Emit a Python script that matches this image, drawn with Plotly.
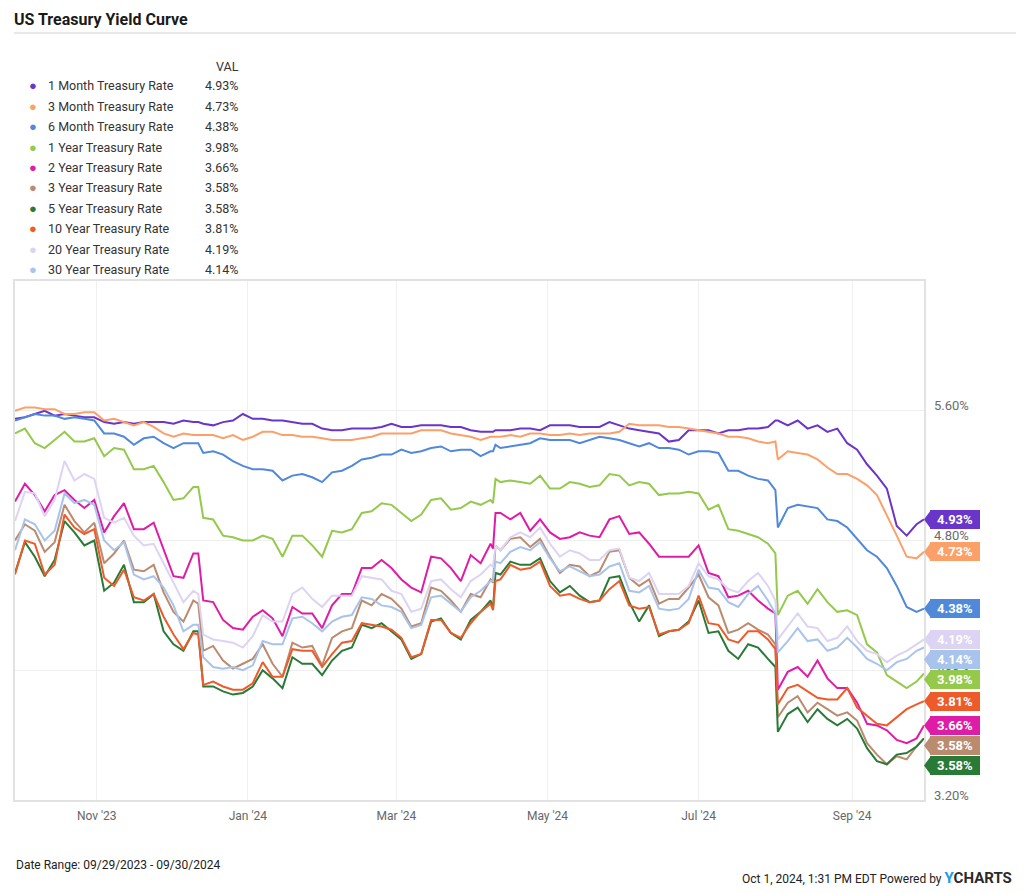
import plotly.graph_objects as go

dates = [
    "2023-09-29", "2023-10-03", "2023-10-07", "2023-10-11", "2023-10-15", "2023-10-19", "2023-10-23",
    "2023-10-27", "2023-10-31", "2023-11-04", "2023-11-08", "2023-11-12", "2023-11-16", "2023-11-20",
    "2023-11-24", "2023-11-28", "2023-12-02", "2023-12-06", "2023-12-10",
    "2023-12-12",
    "2023-12-14", "2023-12-18", "2023-12-22", "2023-12-26", "2023-12-30", "2024-01-03", "2024-01-07",
    "2024-01-11", "2024-01-15", "2024-01-19", "2024-01-23", "2024-01-27", "2024-01-31", "2024-02-04",
    "2024-02-08", "2024-02-12", "2024-02-16", "2024-02-20", "2024-02-24",
    "2024-02-28", "2024-03-03", "2024-03-07", "2024-03-11", "2024-03-15", "2024-03-19", "2024-03-23",
    "2024-03-27", "2024-03-31", "2024-04-04", "2024-04-08",
    "2024-04-09", "2024-04-10",
    "2024-04-12", "2024-04-16", "2024-04-20", "2024-04-24", "2024-04-28", "2024-05-02", "2024-05-06",
    "2024-05-10", "2024-05-14", "2024-05-18", "2024-05-22", "2024-05-26", "2024-05-30", "2024-06-03",
    "2024-06-07", "2024-06-11", "2024-06-15", "2024-06-19", "2024-06-23", "2024-06-27", "2024-07-01",
    "2024-07-05", "2024-07-09", "2024-07-13", "2024-07-17", "2024-07-21",
    "2024-07-25", "2024-07-29",
    "2024-08-01",
    "2024-08-02", "2024-08-06", "2024-08-10", "2024-08-14", "2024-08-18", "2024-08-22", "2024-08-26",
    "2024-08-30", "2024-09-03", "2024-09-07", "2024-09-11", "2024-09-15", "2024-09-19", "2024-09-23",
    "2024-09-27",
    "2024-09-30",
]

rate_1m = [
    5.55, 5.56, 5.58, 5.60, 5.57, 5.58, 5.57, 5.56, 5.56, 5.53, 5.52, 5.53, 5.52, 5.53, 5.53, 5.53, 5.52, 5.54, 5.53,
    5.53,
    5.52, 5.51, 5.53, 5.54, 5.58, 5.55, 5.55, 5.54, 5.54, 5.53, 5.52, 5.52, 5.49, 5.48, 5.48, 5.49, 5.49, 5.49, 5.50,
    5.52, 5.50, 5.50, 5.51, 5.51, 5.51, 5.50, 5.50, 5.48, 5.47, 5.47,
    5.47, 5.48,
    5.48, 5.48, 5.49, 5.49, 5.48, 5.51, 5.51,
    5.51, 5.50, 5.50, 5.50, 5.53, 5.51, 5.49, 5.48, 5.47, 5.46, 5.41, 5.42, 5.48, 5.48, 5.48, 5.46, 5.48, 5.48, 5.49,
    5.49, 5.50,
    5.54,
    5.54, 5.51, 5.54, 5.49, 5.51, 5.47, 5.49, 5.40, 5.36, 5.27, 5.20, 5.12, 4.89, 4.83, 4.90,
    4.93,
]
rate_3m = [
    5.60, 5.62, 5.62, 5.61, 5.61, 5.58, 5.58, 5.59, 5.59, 5.54, 5.55, 5.53, 5.51, 5.53, 5.50, 5.46, 5.44, 5.46, 5.45,
    5.45,
    5.45, 5.45, 5.43, 5.45, 5.42, 5.44, 5.47, 5.47, 5.45, 5.45, 5.44, 5.44, 5.43, 5.42, 5.42, 5.42, 5.43, 5.44, 5.46,
    5.46, 5.46, 5.46, 5.48, 5.48, 5.48, 5.46, 5.45, 5.44, 5.42, 5.44,
    5.44, 5.44,
    5.44, 5.45, 5.44, 5.46, 5.46, 5.45, 5.45,
    5.46, 5.45, 5.46, 5.46, 5.46, 5.47, 5.52, 5.51, 5.51, 5.51, 5.50, 5.50, 5.49, 5.48, 5.47, 5.46, 5.44, 5.44, 5.43,
    5.41, 5.40,
    5.41,
    5.30, 5.35, 5.34, 5.33, 5.30, 5.25, 5.21, 5.21, 5.18, 5.14, 5.08, 4.96, 4.83, 4.70, 4.69,
    4.73,
]
rate_6m = [
    5.54, 5.56, 5.58, 5.57, 5.57, 5.55, 5.56, 5.55, 5.54, 5.46, 5.46, 5.44, 5.39, 5.43, 5.44, 5.40, 5.37, 5.40, 5.40,
    5.40,
    5.34, 5.35, 5.33, 5.29, 5.26, 5.24, 5.24, 5.23, 5.17, 5.20, 5.21, 5.19, 5.16, 5.22, 5.23, 5.26, 5.30, 5.31, 5.33,
    5.33, 5.36, 5.34, 5.35, 5.37, 5.38, 5.35, 5.36, 5.36, 5.32, 5.35,
    5.35, 5.39,
    5.37, 5.38, 5.39, 5.40, 5.43, 5.42, 5.42,
    5.42, 5.40, 5.42, 5.44, 5.43, 5.42, 5.40, 5.38, 5.40, 5.37, 5.37, 5.36, 5.33, 5.35, 5.35, 5.34, 5.23, 5.23, 5.20,
    5.18, 5.17,
    5.11,
    4.88, 5.00, 5.02, 5.01, 5.00, 4.93, 4.92, 4.88, 4.81, 4.74, 4.70, 4.63, 4.52, 4.39, 4.36,
    4.38,
]
rate_1y = [
    5.46, 5.49, 5.40, 5.37, 5.42, 5.47, 5.41, 5.41, 5.43, 5.32, 5.37, 5.36, 5.24, 5.24, 5.26, 5.16, 5.05, 5.06, 5.13,
    5.13,
    4.94, 4.93, 4.83, 4.82, 4.80, 4.80, 4.83, 4.81, 4.70, 4.83, 4.83, 4.77, 4.70, 4.86, 4.85, 4.87, 4.97, 4.98, 5.03,
    5.02, 4.97, 4.92, 4.96, 5.05, 5.06, 4.99, 5.00, 5.04, 5.02, 5.05,
    5.03, 5.18,
    5.16, 5.17, 5.16, 5.15, 5.20, 5.12, 5.12,
    5.16, 5.15, 5.13, 5.14, 5.21, 5.20, 5.14, 5.16, 5.15, 5.08, 5.09, 5.09, 5.10, 5.09, 4.99, 5.02, 4.87, 4.86, 4.84,
    4.82, 4.78,
    4.72,
    4.34, 4.46, 4.49, 4.41, 4.50, 4.42, 4.36, 4.37, 4.34, 4.16, 4.11, 3.97, 3.93, 3.89, 3.93,
    3.98,
]
rate_2y = [
    5.04, 5.15, 5.08, 4.98, 5.08, 5.11, 5.05, 5.00, 5.05, 4.85, 4.95, 5.03, 4.87, 4.87, 4.91, 4.74, 4.58, 4.57, 4.72,
    4.72,
    4.43, 4.42, 4.31, 4.26, 4.25, 4.33, 4.37, 4.32, 4.21, 4.39, 4.35, 4.35, 4.26, 4.40, 4.47, 4.47, 4.63, 4.63, 4.68,
    4.63, 4.56, 4.51, 4.48, 4.70, 4.69, 4.63, 4.55, 4.71, 4.66, 4.78,
    4.75, 4.97,
    4.97, 4.93, 4.97, 4.86, 4.93, 4.85, 4.81,
    4.82, 4.85, 4.83, 4.82, 4.93, 4.95, 4.84, 4.85, 4.78, 4.70, 4.70, 4.70, 4.70, 4.77, 4.60, 4.58, 4.45, 4.46, 4.49,
    4.43, 4.38,
    4.35,
    3.88, 3.99, 4.02, 3.96, 4.06, 3.95, 3.89, 3.89, 3.80, 3.67, 3.66, 3.63, 3.57, 3.55, 3.58,
    3.66,
]
rate_3y = [
    4.80, 4.90, 4.86, 4.73, 4.79, 5.02, 4.92, 4.85, 4.91, 4.66, 4.72, 4.80, 4.62, 4.61, 4.65, 4.48, 4.36, 4.30, 4.43,
    4.41,
    4.12, 4.15, 4.06, 4.01, 4.04, 4.07, 4.16, 4.04, 3.96, 4.17, 4.14, 4.15, 4.03, 4.20, 4.24, 4.26, 4.43, 4.40, 4.47,
    4.44, 4.38, 4.27, 4.29, 4.51, 4.49, 4.43, 4.36, 4.47, 4.45, 4.56,
    4.54, 4.77,
    4.74, 4.81, 4.82, 4.76, 4.81, 4.70, 4.60,
    4.65, 4.64, 4.58, 4.61, 4.73, 4.74, 4.57, 4.52, 4.56, 4.41, 4.44, 4.44, 4.51, 4.59, 4.45, 4.40, 4.23, 4.25, 4.29,
    4.25, 4.22,
    4.16,
    3.71, 3.80, 3.84, 3.74, 3.80, 3.76, 3.72, 3.74, 3.69, 3.55, 3.48, 3.42, 3.47, 3.45, 3.53,
    3.58,
]
rate_5y = [
    4.60, 4.79, 4.70, 4.58, 4.68, 4.92, 4.85, 4.77, 4.80, 4.49, 4.54, 4.65, 4.42, 4.42, 4.47, 4.24, 4.16, 4.12, 4.24,
    4.24,
    3.90, 3.90, 3.87, 3.85, 3.86, 3.90, 4.00, 3.95, 3.89, 4.08, 4.04, 4.04, 3.97, 4.06, 4.12, 4.14, 4.28, 4.26, 4.29,
    4.24, 4.19, 4.07, 4.10, 4.30, 4.32, 4.23, 4.19, 4.31, 4.36, 4.43,
    4.38, 4.60,
    4.59, 4.67, 4.65, 4.65, 4.69, 4.55, 4.48,
    4.52, 4.46, 4.42, 4.43, 4.57, 4.58, 4.42, 4.30, 4.40, 4.21, 4.24, 4.25, 4.30, 4.43, 4.23, 4.24, 4.12, 4.07, 4.16,
    4.14, 4.07,
    4.02,
    3.62, 3.73, 3.77, 3.68, 3.76, 3.70, 3.66, 3.70, 3.64, 3.52, 3.44, 3.42, 3.48, 3.49, 3.53,
    3.58,
]
rate_10y = [
    4.59, 4.80, 4.78, 4.59, 4.65, 4.96, 4.88, 4.84, 4.87, 4.57, 4.52, 4.62, 4.45, 4.43, 4.47, 4.33, 4.22, 4.13, 4.23,
    4.22,
    3.91, 3.93, 3.90, 3.88, 3.88, 3.92, 4.05, 3.96, 3.96, 4.13, 4.12, 4.12, 4.02, 4.10, 4.17, 4.18, 4.29, 4.28, 4.27,
    4.25, 4.20, 4.08, 4.10, 4.31, 4.31, 4.23, 4.20, 4.29, 4.36, 4.41,
    4.37, 4.55,
    4.56, 4.65, 4.62, 4.63, 4.67, 4.52, 4.46,
    4.47, 4.44, 4.42, 4.43, 4.50, 4.55, 4.40, 4.38, 4.39, 4.22, 4.24, 4.25, 4.29, 4.46, 4.29, 4.28, 4.19, 4.17, 4.24,
    4.24, 4.19,
    4.13,
    3.79, 3.89, 3.91, 3.87, 3.83, 3.82, 3.82, 3.89, 3.77, 3.72, 3.67, 3.66, 3.71, 3.76, 3.79,
    3.81,
]
rate_20y = [
    4.92, 5.10, 5.09, 4.95, 5.05, 5.29, 5.17, 5.21, 5.18, 4.94, 4.91, 4.94, 4.83, 4.77, 4.78, 4.66, 4.53, 4.42, 4.49,
    4.47,
    4.22, 4.19, 4.18, 4.17, 4.14, 4.21, 4.34, 4.30, 4.30, 4.47, 4.51, 4.44, 4.39, 4.46, 4.46, 4.46, 4.58, 4.57, 4.56,
    4.49, 4.47, 4.36, 4.38, 4.55, 4.56, 4.50, 4.45, 4.55, 4.59, 4.65,
    4.64, 4.77,
    4.74, 4.82, 4.85, 4.82, 4.88, 4.78, 4.70,
    4.74, 4.72, 4.68, 4.68, 4.74, 4.75, 4.57, 4.55, 4.60, 4.47, 4.47, 4.47, 4.52, 4.66, 4.58, 4.56, 4.50, 4.48, 4.55,
    4.60, 4.52,
    4.43,
    4.19, 4.27, 4.35, 4.27, 4.26, 4.18, 4.20, 4.27, 4.18, 4.12, 4.10, 4.05, 4.09, 4.12, 4.16,
    4.19,
]
rate_30y = [
    4.74, 4.93, 4.90, 4.80, 4.86, 5.09, 5.03, 5.05, 5.02, 4.80, 4.74, 4.79, 4.59, 4.56, 4.58, 4.51, 4.40, 4.24, 4.28,
    4.28,
    4.08, 4.02, 4.01, 4.02, 4.00, 4.03, 4.18, 4.16, 4.16, 4.32, 4.33, 4.29, 4.24, 4.30, 4.33, 4.34, 4.45, 4.44, 4.40,
    4.39, 4.36, 4.26, 4.28, 4.45, 4.46, 4.41, 4.36, 4.45, 4.49, 4.55,
    4.55, 4.67,
    4.66, 4.73, 4.76, 4.74, 4.79, 4.69, 4.61,
    4.64, 4.61, 4.58, 4.59, 4.64, 4.66, 4.49, 4.48, 4.52, 4.38, 4.37, 4.38, 4.44, 4.62, 4.51, 4.50, 4.42, 4.39, 4.47,
    4.52, 4.43,
    4.35,
    4.11, 4.18, 4.26, 4.18, 4.19, 4.12, 4.14, 4.20, 4.14, 4.07, 4.04, 4.00, 4.05, 4.07, 4.12,
    4.14,
]

series_names = [
    "1 Month Treasury Rate", "3 Month Treasury Rate", "6 Month Treasury Rate", "1 Year Treasury Rate",
    "2 Year Treasury Rate", "3 Year Treasury Rate", "5 Year Treasury Rate", "10 Year Treasury Rate",
    "20 Year Treasury Rate", "30 Year Treasury Rate",
]
series_values = [rate_1m, rate_3m, rate_6m, rate_1y, rate_2y, rate_3y, rate_5y, rate_10y, rate_20y, rate_30y]
series_colors = [
    "#6a35c9", "#fca06a", "#5089da", "#94c94c", "#df1ca6",
    "#bb8b6f", "#2a7a37", "#ee5b2b", "#ddd3f3", "#a8c4ec",
]

y_ticks = [3.2, 4.0, 4.8, 5.6]
x_range = ["2023-09-29", "2024-09-30"]
y_range = [3.2, 6.4]

for s in series_values:
    assert len(s) == len(dates), len(s)

# ---- layout geometry ----
# The page body adds an 8px margin, so the figure is 8px smaller and all
# reference-pixel positions below are shifted by that offset.
OFF = 8
FW, FH = 1024 - OFF, 893 - OFF
PLOT_L, PLOT_R, PLOT_T, PLOT_B = 13, 924, 281, 800   # reference pixels
ML = PLOT_L - OFF
MT = PLOT_T - OFF
MR = FW - (PLOT_R - OFF)
MB = FH - (PLOT_B - OFF)
PW = PLOT_R - PLOT_L
PH = PLOT_B - PLOT_T


def fx(x):
    return (x - PLOT_L) / PW


def fy(y):
    return (PLOT_B - y) / PH


fig = go.Figure()
for name, vals, col in zip(series_names, series_values, series_colors):
    fig.add_trace(go.Scatter(
        x=dates, y=vals, mode="lines", name=name,
        line=dict(color=col, width=2), showlegend=False, hoverinfo="skip",
    ))

annotations = []
shapes = []

# Title
annotations.append(dict(
    x=fx(10), y=fy(19), xref="paper", yref="paper", xanchor="left", yanchor="middle",
    text="<b>US Treasury Yield Curve</b>", showarrow=False,
    font=dict(size=16, color="#1a1a1a", family="Roboto"),
))
shapes.append(dict(type="line", xref="paper", yref="paper", x0=fx(12), x1=fx(1030), y0=fy(33), y1=fy(33),
                   line=dict(color="#e8e8e8", width=2)))

# Legend table
LEG_FONT = dict(size=12.5, color="#333333", family="Roboto")
annotations.append(dict(
    x=fx(239), y=fy(66), xref="paper", yref="paper", xanchor="right", yanchor="middle",
    text="VAL", showarrow=False, font=LEG_FONT,
))
for i, (name, vals, col) in enumerate(zip(series_names, series_values, series_colors)):
    yy = 86 + i * 20.4
    annotations.append(dict(
        x=fx(31), y=fy(yy), xref="paper", yref="paper", xanchor="center", yanchor="middle",
        text="●", showarrow=False, font=dict(size=13, color=col),
    ))
    annotations.append(dict(
        x=fx(44), y=fy(yy), xref="paper", yref="paper", xanchor="left", yanchor="middle",
        text=name, showarrow=False, font=LEG_FONT,
    ))
    annotations.append(dict(
        x=fx(239), y=fy(yy), xref="paper", yref="paper", xanchor="right", yanchor="middle",
        text=f"{vals[-1]:.2f}%", showarrow=False, font=LEG_FONT,
    ))

# Right-side value-axis labels (sit slightly above their grid lines)
for v in y_ticks:
    annotations.append(dict(
        x=1, y=v, xref="paper", yref="y", xanchor="left", yanchor="middle", xshift=8, yshift=5,
        text=f"{v:.2f}%", showarrow=False, font=dict(size=13, color="#6b6b6b", family="Roboto"),
    ))

# End-value tags (de-cluttered vertically), drawn after the axis labels so they cover them
units_per_px = (y_range[1] - y_range[0]) / PH
gap = 20 * units_per_px
order = sorted(range(len(series_values)), key=lambda k: -series_values[k][-1])
prev = None
tag_y = {}
for k in order:
    v = series_values[k][-1]
    pos = v if prev is None else min(v, prev - gap)
    tag_y[k] = pos
    prev = pos
for k in range(len(series_values)):
    col = series_colors[k]
    shapes.append(dict(
        type="path", xref="paper", yref="y", xsizemode="pixel", ysizemode="pixel",
        xanchor=1, yanchor=tag_y[k],
        path="M0,0 L7,9.5 L7,-9.5 Z",
        fillcolor=col, line=dict(width=0), layer="above",
    ))
    annotations.append(dict(
        x=1, y=tag_y[k], xref="paper", yref="y", xshift=6, xanchor="left", yanchor="middle",
        width=50, height=19, bgcolor=col, borderpad=0, borderwidth=0, align="center", valign="middle",
        text=f"<b>{series_values[k][-1]:.2f}%</b>", showarrow=False,
        font=dict(size=13, color="white", family="Roboto"),
    ))

# Footer
annotations.append(dict(
    x=fx(12), y=fy(865), xref="paper", yref="paper", xanchor="left", yanchor="middle",
    text="Date Range: 09/29/2023 - 09/30/2024", showarrow=False,
    font=dict(size=12, color="#222222", family="Roboto"),
))
annotations.append(dict(
    x=fx(1014), y=fy(878), xref="paper", yref="paper", xanchor="right", yanchor="middle",
    text=("Oct 1, 2024, 1:31 PM EDT Powered by "
          "<b><span style='font-size:15px;color:#1c9be6'>Y</span>"
          "<span style='font-size:15px;color:#2b2b2b'>CHARTS</span></b>"),
    showarrow=False, font=dict(size=12, color="#222222", family="Roboto"),
))

fig.update_layout(
    width=FW, height=FH,
    margin=dict(l=ML, r=MR, t=MT, b=MB),
    paper_bgcolor="white", plot_bgcolor="white",
    font=dict(family="Roboto", color="#666666"),
    annotations=annotations, shapes=shapes,
    showlegend=False,
    xaxis=dict(
        type="date", range=x_range, tick0="2023-11-01", dtick="M2", tickformat="%b '%y",
        showgrid=True, gridcolor="#efefef", gridwidth=1, zeroline=False,
        showline=True, mirror=True, linecolor="#e2e2e2", linewidth=1.5, ticks="",
        tickfont=dict(size=12, color="#666666"), ticklabelstandoff=4,
    ),
    yaxis=dict(
        side="right", range=y_range, tickvals=y_ticks, showticklabels=False,
        showgrid=True, gridcolor="#efefef", gridwidth=1, zeroline=False,
        showline=True, mirror=True, linecolor="#e2e2e2", linewidth=1.5, ticks="",
    ),
)

fig.write_html("out.html")
